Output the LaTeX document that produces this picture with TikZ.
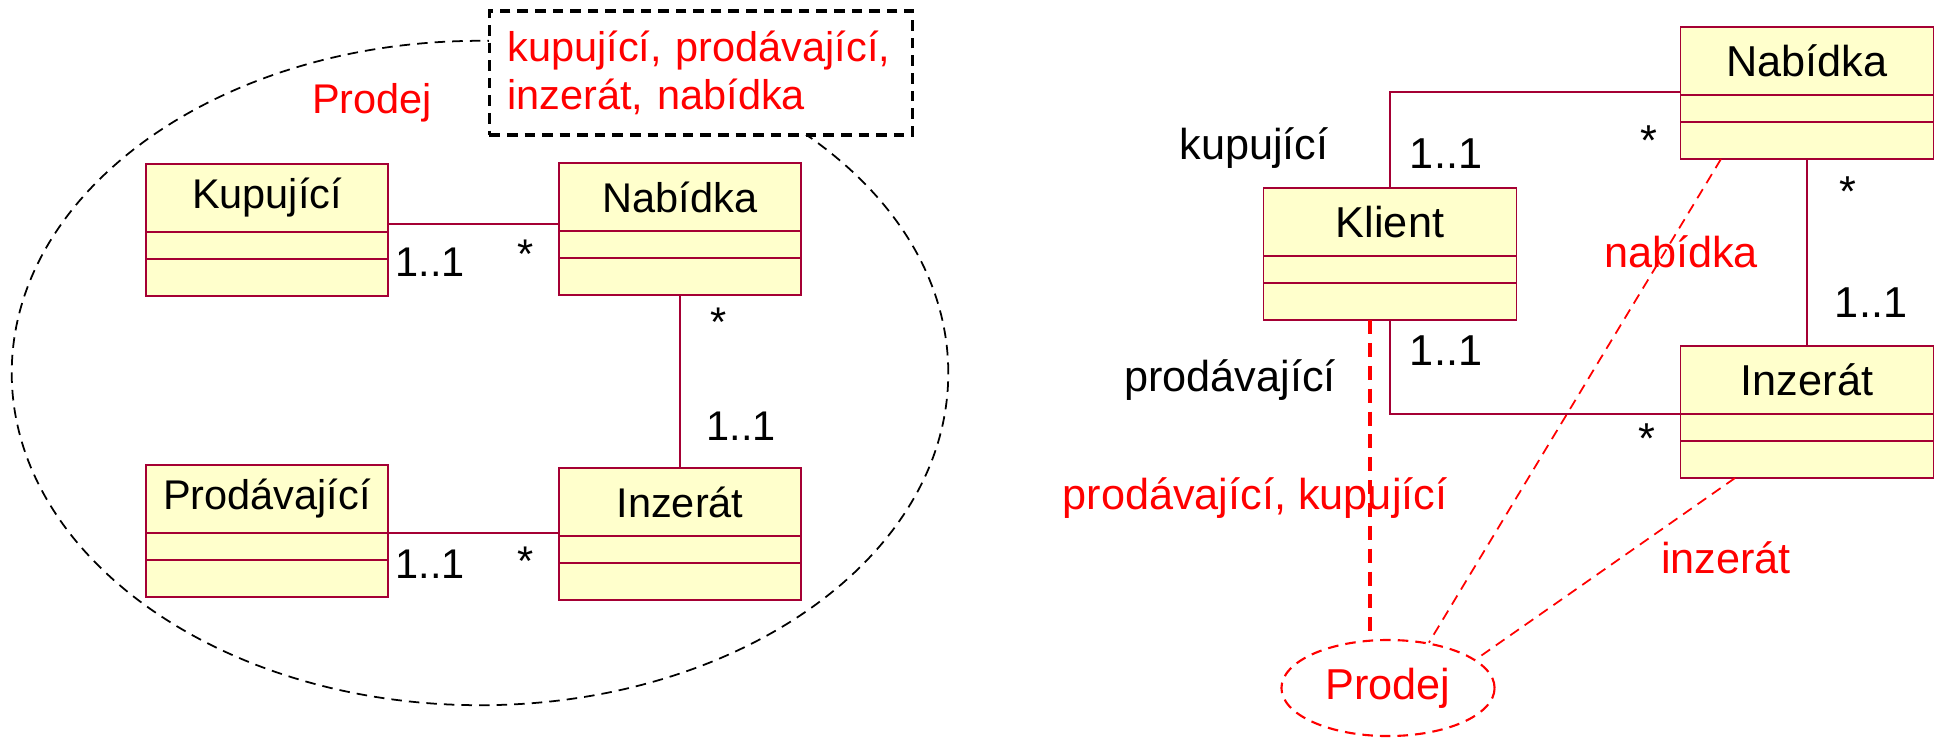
\documentclass[tikz,border=0pt]{standalone}
\usepackage{fontspec}
\setmainfont{Liberation Sans}
\usetikzlibrary{positioning,shapes.geometric}
\definecolor{ramecek}{RGB}{165,0,52}
\definecolor{vypln}{RGB}{255,255,204}

\newcommand{\trida}[4]{%
  \node[box,minimum width=#3] (#1) at (#2) {#4};
  \node[box,minimum width=#3,minimum height=0.27cm,below=0pt of #1] (#1a) {};
  \node[box,minimum width=#3,minimum height=0.37cm,below=0pt of #1a] (#1o) {};
}

\begin{document}
\begin{tikzpicture}[x=0.01cm,y=-0.01cm,
  font=\fontsize{11.8pt}{13.6pt}\selectfont,
  box/.style={draw=ramecek,fill=vypln,line width=0.5pt,inner sep=0pt,outer sep=0pt,minimum height=0.68cm},
  spoj/.style={draw=ramecek,line width=0.45pt},
  popis/.style={inner sep=0pt},
  rcar/.style={draw=red,dash pattern=on 3pt off 2pt,line width=0.5pt},
  rcarS/.style={draw=red,dash pattern=on 4pt off 2.5pt,line width=1.1pt}]
\useasboundingbox (0,0) rectangle (1937,738);
\draw[dash pattern=on 3pt off 2pt,line width=0.5pt] (480,373) ellipse [x radius=4.68cm,y radius=3.32cm];
\node[draw,dash pattern=on 3pt off 2pt,line width=0.9pt,fill=white,text=red,align=left,
  text width=3.87cm,minimum width=4.23cm,minimum height=1.24cm,inner sep=0.18cm] (pozn) at (701,73)
  {kupující, prodávající,\\inzerát, nabídka};
\node[popis,text=red] (prodejL) at (372,103) {Prodej};

\trida{kup}{267,198}{2.42cm}{Kupující}
\trida{nab}{680,197}{2.42cm}{Nabídka}
\trida{pro}{267,499}{2.42cm}{Prodávající}
\trida{inz}{680,502}{2.42cm}{Inzerát}
\draw[spoj] ([yshift=0.08cm]kup.south east) -- ([yshift=0.08cm]kup.south east -| nab.west);
\draw[spoj] (pro.south east) -- (pro.south east -| inz.west);
\draw[spoj] (nabo.south) -- (inz.north);
\node[popis] (m1) at (430,262) {1..1};
\node[popis] (m2) at (526,254) {*};
\node[popis] (m3) at (719,322) {*};
\node[popis] (m4) at (741,426) {1..1};
\node[popis] (m5) at (430,564) {1..1};
\node[popis] (m6) at (526,561) {*};

\begin{scope}[font=\fontsize{12.3pt}{14pt}\selectfont]
\trida{kli}{1390,222}{2.53cm}{Klient}
\trida{nabR}{1807,61}{2.53cm}{Nabídka}
\trida{inzR}{1807,380}{2.53cm}{Inzerát}
\draw[spoj] (kli.north) |- ([yshift=0.03cm]nabR.south west);
\draw[spoj] (klio.south) |- (inzR.south west);
\draw[spoj] (nabRo.south) -- (inzR.north);
\node[popis] (kupR) at (1254,148) {kupující};
\node[popis] (proR) at (1230,380) {prodávající};
\node[popis] (m7) at (1446,154) {1..1};
\node[popis] (m8) at (1649,141) {*};
\node[popis] (m9) at (1848,192) {*};
\node[popis] (m10) at (1871,303) {1..1};
\node[popis] (m11) at (1446,351) {1..1};
\node[popis] (m12) at (1647,439) {*};

\node[ellipse,draw=red,dash pattern=on 3pt off 2pt,line width=0.6pt,text=red,inner sep=0pt,
  minimum width=2.13cm,minimum height=0.96cm] (prodej) at (1388,688) {Prodej};
\draw[rcarS] ([xshift=-0.2cm]klio.south) -- ([xshift=-0.2cm]klio.south |- prodej.north);
\draw[rcar] ([xshift=-0.86cm]nabRo.south) -- (prodej.48);
\draw[rcar] ([xshift=-0.72cm]inzRo.south) -- (prodej.18);
\node[popis,text=red] (rolePK) at (1255,498) {prodávající, kupující};
\node[popis,text=red] (roleN) at (1681,252) {nabídka};
\node[popis,text=red] (roleI) at (1726,558) {inzerát};
\end{scope}
\end{tikzpicture}
\end{document}
